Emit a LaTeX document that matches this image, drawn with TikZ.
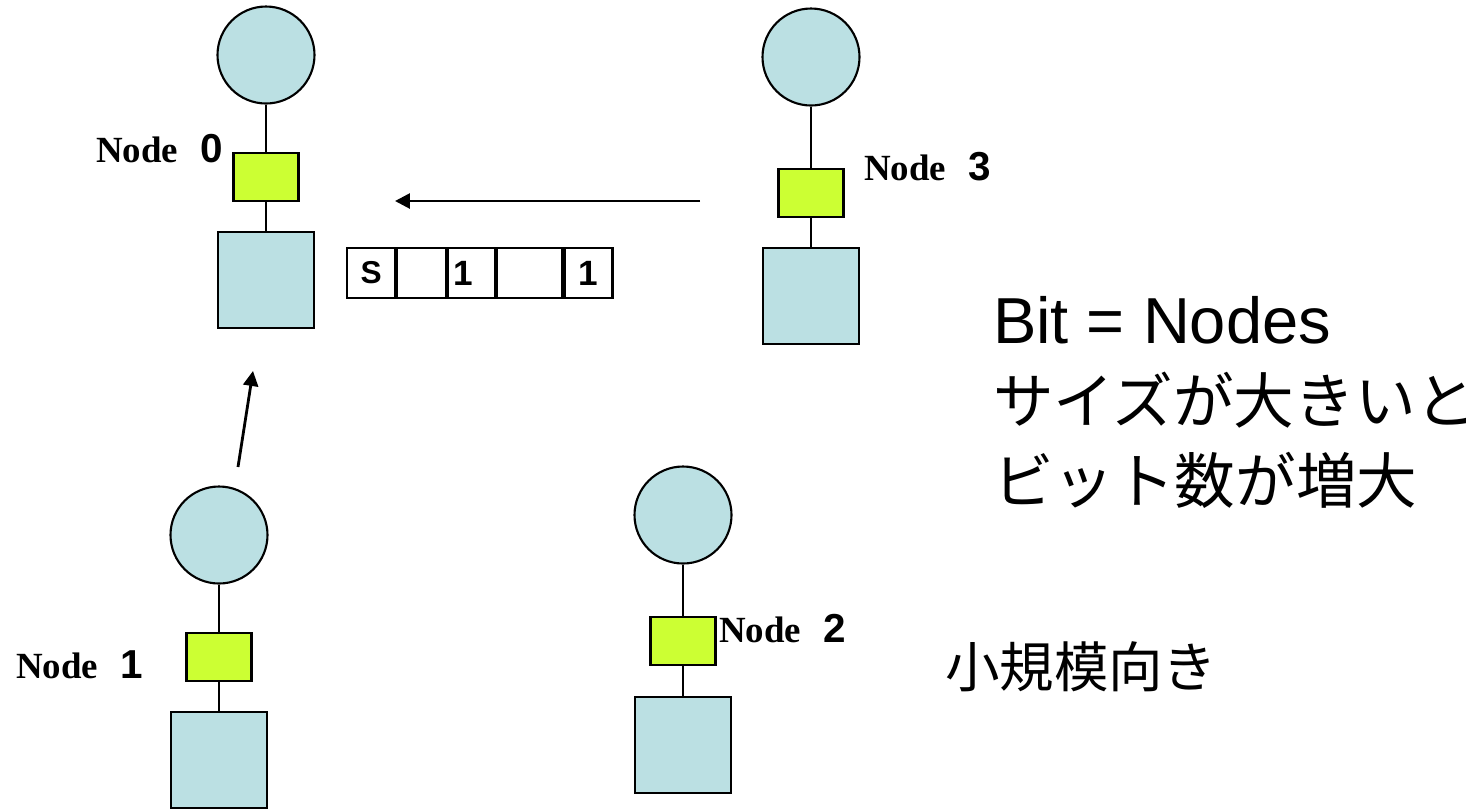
\documentclass[tikz,border=0pt]{standalone}
\usepackage{fontspec}
\setmainfont{Liberation Serif}
\setsansfont{Liberation Sans}
\newfontfamily\cjk{Noto Sans CJK JP}
\usepackage{tikz}
\usetikzlibrary{shapes,arrows.meta,positioning}
\definecolor{hostblue}{RGB}{187,224,227}
\definecolor{nicgreen}{RGB}{204,255,51}
\tikzstyle{host} = [draw, circle, fill=hostblue, minimum size=1.94cm, inner sep=0pt]
\tikzstyle{nic} = [draw, rectangle, fill=nicgreen, minimum width=1.3cm, minimum height=0.96cm, inner sep=0pt]
\tikzstyle{store} = [draw, rectangle, fill=hostblue, minimum size=1.92cm, inner sep=0pt]
\tikzstyle{cell} = [draw, rectangle, minimum height=1cm, anchor=west, inner sep=0pt,
    font=\sffamily\bfseries\fontsize{20}{22}\selectfont]
\tikzstyle{tag} = [anchor=base west, inner sep=0pt, font=\fontsize{21}{24}\selectfont]
\tikzstyle{msg} = [-{Triangle[length=8.5pt,width=8.5pt]}, line width=1.6pt]
\newcommand{\nodetag}[1]{\textbf{Node}\hspace{0.62em}{\sffamily\bfseries\fontsize{23}{24}\selectfont #1}}

\begin{document}
\begin{tikzpicture}[line width=1.2pt]
  \useasboundingbox (0,0) rectangle (29.48,-16.18);
  % node 0 (receiver)
  \node [host] (c0) at (5.32,-1.10) {};
  \node [nic, below of=c0, node distance=2.44cm] (n0) {};
  \node [store, below of=n0, node distance=2.06cm] (s0) {};
  \node [tag] (t0) at (1.90,-3.24) {\nodetag{0}};
  % node 3
  \node [host] (c3) at (16.22,-1.14) {};
  \node [nic, below of=c3, node distance=2.72cm] (n3) {};
  \node [store, below of=n3, node distance=2.06cm] (s3) {};
  \node [tag] (t3) at (17.26,-3.60) {\nodetag{3}};
  % node 1
  \node [host] (c1) at (4.38,-10.70) {};
  \node [nic, below of=c1, node distance=2.44cm] (n1) {};
  \node [store, below of=n1, node distance=2.06cm] (s1) {};
  \node [tag] (t1) at (0.30,-13.56) {\nodetag{1}};
  % node 2
  \node [host] (c2) at (13.66,-10.30) {};
  \node [nic, below of=c2, node distance=2.52cm] (n2) {};
  \node [store, below of=n2, node distance=2.08cm] (s2) {};
  \node [tag] (t2) at (14.36,-12.84) {\nodetag{2}};
  \draw (c0) -- (n0) -- (s0);
  \draw (c3) -- (n3) -- (s3);
  \draw (c1) -- (n1) -- (s1);
  \draw (c2) -- (n2) -- (s2);
  % bit field sent along
  \node [cell, minimum width=0.96cm] (b1) at (6.92,-5.46) {\raisebox{-6pt}{\fontsize{18}{20}\selectfont S}};
  \node [cell, minimum width=0.98cm] (b2) at (b1.east) {};
  \node [cell, minimum width=0.94cm] (b3) at (b2.east) {1\hspace*{10pt}};
  \node [cell, minimum width=1.30cm] (b4) at (b3.east) {};
  \node [cell, minimum width=0.96cm] (b5) at (b4.east) {1};
  % messages
  \coordinate (m3from) at (14.0,-4.02);
  \coordinate (m3to) at (7.9,-4.02);
  \coordinate (m1from) at (4.76,-9.34);
  \coordinate (m1to) at (5.06,-7.42);
  \draw [msg] (m3from) -- (m3to);
  \draw [msg] (m1from) -- (m1to);
  % notes
  \node [anchor=base west, inner sep=0pt] (bit) at (19.84,-6.86)
    {\sffamily\fontsize{37}{40}\selectfont Bit = Nodes};
  \node [anchor=base west, inner sep=0pt] (size) at (19.84,-8.46)
    {\cjk\fontsize{34.5}{40}\selectfont サイズが大きいと};
  \node [anchor=base west, inner sep=0pt] (grow) at (19.84,-10.06)
    {\cjk\fontsize{34.5}{40}\selectfont ビット数が増大};
  \node [anchor=west, inner sep=0pt, font=\cjk\fontsize{31}{34}\selectfont] (small) at (18.88,-13.34) {小規模向き};
\end{tikzpicture}
\end{document}
